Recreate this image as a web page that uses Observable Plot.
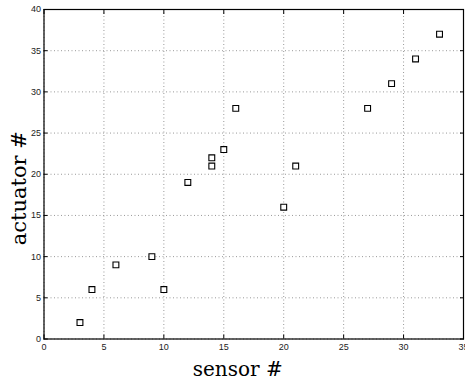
<!DOCTYPE html>
<html>
<head>
<meta charset="utf-8">
<script src="https://cdn.jsdelivr.net/npm/d3@7"></script>
<script src="https://cdn.jsdelivr.net/npm/@observablehq/plot@0.6"></script>
<style>
body{margin:0;background:#fff;}
</style>
</head>
<body>
<div id="chart"></div>
<script>
const sensor   = [3, 4, 6, 9, 10, 12, 14, 14, 15, 16, 20, 21, 27, 29, 31, 33];
const actuator = [2, 6, 9, 10, 6, 19, 21, 22, 23, 28, 16, 21, 28, 31, 34, 37];
const xTicks = [0, 5, 10, 15, 20, 25, 30, 35];
const yTicks = [0, 5, 10, 15, 20, 25, 30, 35, 40];
const xLabel = "sensor #";
const yLabel = "actuator #";

const data = sensor.map((s, i) => ({sensor: s, actuator: actuator[i]}));
const serif = "DejaVu Serif, Liberation Serif, serif";

const chart = Plot.plot({
  width: 465,
  height: 384,
  marginLeft: 43.5,
  marginRight: 2,
  marginTop: 9,
  marginBottom: 45.5,
  style: {background: "#fff", color: "#000", fontFamily: "Liberation Sans, Helvetica, Arial, sans-serif", fontSize: "9px", overflow: "visible"},
  x: {domain: [0, 35], ticks: xTicks},
  y: {domain: [0, 40], ticks: yTicks},
  marks: [
    Plot.gridX(xTicks, {stroke: "#999", strokeOpacity: 1, strokeDasharray: "1,2.5"}),
    Plot.gridY(yTicks, {stroke: "#999", strokeOpacity: 1, strokeDasharray: "1,2.5"}),
    Plot.axisX(xTicks, {anchor: "bottom", tickSize: 0, tickPadding: 5, label: null, fill: "#222"}),
    Plot.axisY(yTicks, {anchor: "left", tickSize: 0, tickPadding: 3, label: null, fill: "#222"}),
    Plot.axisX(xTicks, {anchor: "bottom", tickSize: -4, tickFormat: () => "", label: null}),
    Plot.axisX(xTicks, {anchor: "top", tickSize: -4, tickFormat: () => "", label: null}),
    Plot.axisY(yTicks, {anchor: "left", tickSize: -4, tickFormat: () => "", label: null}),
    Plot.axisY(yTicks, {anchor: "right", tickSize: -4, tickFormat: () => "", label: null}),
    Plot.frame({stroke: "#000", strokeWidth: 1.2}),
    Plot.dot(data, {x: "sensor", y: "actuator", symbol: "square", r: 3.3, stroke: "#000", strokeWidth: 1.1, fill: "#fff"}),
    Plot.text([xLabel], {frameAnchor: "bottom", textAnchor: "middle", dx: -16, dy: 31, fontFamily: serif, fontSize: 20, fill: "#000", lineAnchor: "middle"}),
    Plot.text([yLabel], {frameAnchor: "left", textAnchor: "middle", dx: -25, dy: 14, rotate: -90, fontFamily: serif, fontSize: 21, fill: "#000", lineAnchor: "middle"})
  ]
});
document.getElementById("chart").appendChild(chart);
</script>
</body>
</html>
